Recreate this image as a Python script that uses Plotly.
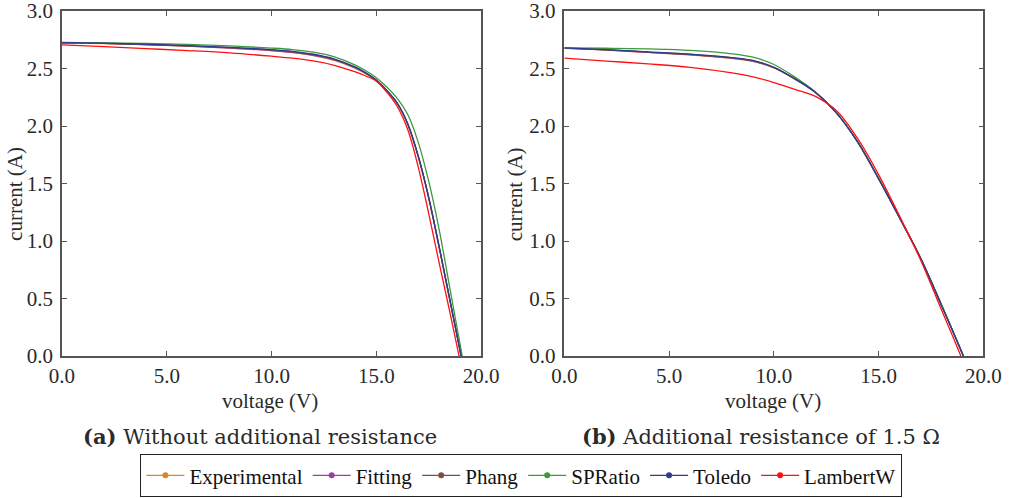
import plotly.graph_objects as go

# ---------------- data: I-V curves (voltage in V, current in A) ----------------
# (a) without additional resistance
v_a = [0, 2, 4, 6, 8, 10, 11, 12, 13, 14, 14.5, 15, 15.5, 16, 16.5, 17, 17.5, 18, 18.5]
voc_a = {"Experimental": 19.05, "Fitting": 19.05, "Phang": 19.05,
         "SPRatio": 19.1, "Toledo": 19.05, "LambertW": 18.95}
i_exp_a = [2.722, 2.716, 2.707, 2.694, 2.678, 2.655, 2.638, 2.612, 2.570, 2.500, 2.455, 2.395, 2.305, 2.195, 2.015, 1.735, 1.375, 0.945, 0.495]
i_fit_a = [2.725, 2.718, 2.708, 2.695, 2.678, 2.656, 2.640, 2.615, 2.575, 2.505, 2.458, 2.398, 2.307, 2.197, 2.018, 1.738, 1.378, 0.948, 0.498]
i_phang_a = [2.724, 2.718, 2.709, 2.697, 2.681, 2.660, 2.645, 2.620, 2.580, 2.510, 2.460, 2.398, 2.308, 2.198, 2.018, 1.738, 1.378, 0.948, 0.498]
i_spr_a = [2.726, 2.723, 2.718, 2.710, 2.696, 2.678, 2.665, 2.642, 2.602, 2.530, 2.480, 2.420, 2.340, 2.240, 2.100, 1.860, 1.520, 1.100, 0.600]
i_tol_a = [2.726, 2.720, 2.711, 2.699, 2.684, 2.664, 2.649, 2.624, 2.582, 2.512, 2.462, 2.400, 2.310, 2.200, 2.020, 1.740, 1.380, 0.950, 0.500]
i_lam_a = [2.706, 2.690, 2.673, 2.656, 2.636, 2.607, 2.590, 2.566, 2.528, 2.470, 2.435, 2.390, 2.295, 2.170, 1.970, 1.645, 1.240, 0.810, 0.390]

# (b) additional resistance of 1.5 ohm
v_b = [0, 2, 4, 6, 8, 9, 10, 11, 12, 13, 14, 15, 16, 17, 18, 18.5]
voc_b = {"Experimental": 19.04, "Fitting": 19.04, "Phang": 19.04,
         "SPRatio": 19.05, "Toledo": 19.04, "LambertW": 18.92}
i_exp_b = [2.675, 2.660, 2.640, 2.618, 2.588, 2.562, 2.505, 2.408, 2.288, 2.110, 1.860, 1.540, 1.200, 0.850, 0.440, 0.230]
i_fit_b = [2.678, 2.662, 2.641, 2.620, 2.590, 2.565, 2.508, 2.410, 2.290, 2.110, 1.860, 1.540, 1.200, 0.850, 0.440, 0.230]
i_phang_b = [2.678, 2.663, 2.643, 2.622, 2.592, 2.567, 2.509, 2.410, 2.290, 2.110, 1.860, 1.540, 1.200, 0.850, 0.440, 0.230]
i_spr_b = [2.680, 2.676, 2.670, 2.658, 2.628, 2.598, 2.535, 2.425, 2.292, 2.112, 1.862, 1.542, 1.202, 0.852, 0.445, 0.235]
i_tol_b = [2.680, 2.665, 2.645, 2.625, 2.595, 2.570, 2.510, 2.410, 2.290, 2.110, 1.860, 1.540, 1.200, 0.850, 0.440, 0.230]
i_lam_b = [2.590, 2.565, 2.540, 2.510, 2.462, 2.428, 2.378, 2.318, 2.255, 2.130, 1.890, 1.575, 1.215, 0.835, 0.400, 0.185]

series = ["Experimental", "Fitting", "Phang", "SPRatio", "Toledo", "LambertW"]
colors = {"Experimental": "#e0842a", "Fitting": "#9a3fa3", "Phang": "#7a5041",
          "SPRatio": "#3c9a3c", "Toledo": "#2d3a8f", "LambertW": "#ff1010"}
curves_a = dict(zip(series, [i_exp_a, i_fit_a, i_phang_a, i_spr_a, i_tol_a, i_lam_a]))
curves_b = dict(zip(series, [i_exp_b, i_fit_b, i_phang_b, i_spr_b, i_tol_b, i_lam_b]))

x_ticks = [0, 5, 10, 15, 20]
y_ticks = [0, 0.5, 1.0, 1.5, 2.0, 2.5, 3.0]

SERIF = "Liberation Serif, Times New Roman, serif"

fig = go.Figure()

for name in series:
    fig.add_trace(go.Scatter(
        x=v_a + [voc_a[name]], y=curves_a[name] + [0.0],
        mode="lines", line=dict(color=colors[name], width=1.3, shape="spline", smoothing=1.0),
        showlegend=False, xaxis="x", yaxis="y", name=name))
    fig.add_trace(go.Scatter(
        x=v_b + [voc_b[name]], y=curves_b[name] + [0.0],
        mode="lines", line=dict(color=colors[name], width=1.3, shape="spline", smoothing=1.0),
        showlegend=False, xaxis="x2", yaxis="y2", name=name))

# legend entries (line with dot marker)
for name in series:
    fig.add_trace(go.Scatter(
        x=[None], y=[None], mode="lines+markers", name=name,
        line=dict(color=colors[name], width=1.3), marker=dict(color=colors[name], size=6),
        xaxis="x", yaxis="y"))

tick_font = dict(family=SERIF, size=21, color="#2a2a2a")
axis_common = dict(showline=True, linecolor="#555555", linewidth=1.5, mirror="ticks",
                   ticks="inside", ticklen=5, tickwidth=1.2, tickcolor="#555555",
                   showgrid=False, zeroline=False, tickfont=tick_font, tickformat=".1f",
                   ticklabeloverflow="allow", automargin=False)

# plot area: 4 px top margin, domains expressed within the remaining 494 px
fig.update_layout(
    width=1016, height=498,
    margin=dict(l=0, r=0, t=4, b=0, autoexpand=False),
    paper_bgcolor="white", plot_bgcolor="white",
    xaxis=dict(domain=[0.061, 0.4735], range=[0, 20], tickvals=x_ticks, anchor="y",
               ticklabelstandoff=0, **axis_common),
    yaxis=dict(domain=[0.2874, 0.9858], range=[0, 3], tickvals=y_ticks, anchor="x",
               ticklabelstandoff=3, **axis_common),
    xaxis2=dict(domain=[0.5555, 0.968], range=[0, 20], tickvals=x_ticks, anchor="y2",
                ticklabelstandoff=0, **axis_common),
    yaxis2=dict(domain=[0.2874, 0.9858], range=[0, 3], tickvals=y_ticks, anchor="x2",
                ticklabelstandoff=3, **axis_common),
    legend=dict(orientation="h", xref="container", yref="container",
                x=0.513, xanchor="center", y=0.002, yanchor="bottom",
                bordercolor="#222222", borderwidth=1.2, bgcolor="white",
                font=dict(family=SERIF, size=21, color="#111111"),
                itemwidth=38, tracegroupgap=0),
    showlegend=True,
)

label_font = dict(family=SERIF, size=21, color="#2a2a2a")
caption_font = dict(family="DejaVu Serif", size=21, color="#2a2a2a")
annotations = [
    dict(text="current (A)", x=0.0145, y=0.615, textangle=-90, font=label_font),
    dict(text="current (A)", x=0.507, y=0.615, textangle=-90, font=label_font),
    dict(text="voltage (V)", x=0.266, y=0.196, font=label_font),
    dict(text="voltage (V)", x=0.761, y=0.196, font=label_font),
    dict(text="<b>(a)</b> Without additional resistance", x=0.256, y=0.1235, font=caption_font),
    dict(text="<b>(b)</b> Additional resistance of 1.5 Ω", x=0.749, y=0.1235, font=caption_font),
]
for a in annotations:
    a.update(xref="paper", yref="paper", showarrow=False, xanchor="center", yanchor="middle")
fig.update_layout(annotations=annotations)

fig.write_html("out.html")
